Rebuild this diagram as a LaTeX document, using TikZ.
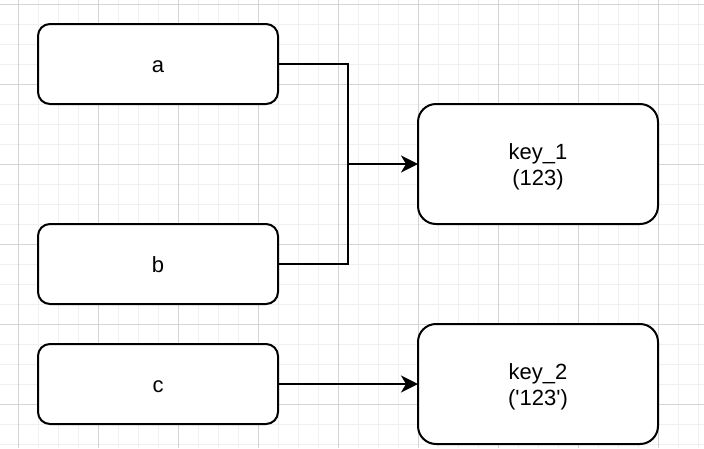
\documentclass[tikz,border=0pt]{standalone}
\usepackage{fontspec}
\setmainfont{Liberation Sans}
\usetikzlibrary{arrows.meta}

\definecolor{gridminor}{HTML}{F0F0F0}
\definecolor{gridmajor}{HTML}{D4D4D4}

\tikzset{
	box/.style = {draw, line width = 2pt, rounded corners = 12pt, fill = white,
		minimum width = 240pt, minimum height = 80pt, inner sep = 0pt, outer sep = 0pt,
		align = center, font = \fontsize{22}{26.4}\selectfont,
		text height = 17pt, text depth = 0pt},
	keybox/.style = {box, minimum height = 120pt, rounded corners = 18pt,
		text height = 43.4pt, text depth = 0pt},
	link/.style = {line width = 2pt, -{Stealth[length = 17pt, width = 17pt, inset = 5pt]}}
}

\begin{document}
\begin{tikzpicture}[x = 1pt, y = -1pt]
	\useasboundingbox[fill = white] (0, 0) rectangle (704, 448);
	% grid
	\foreach \x in {38, 58, ..., 698}
		\draw[gridminor, line width = 1pt] (\x, 0) -- (\x, 448);
	\foreach \y in {24, 44, ..., 444}
		\draw[gridminor, line width = 1pt] (0, \y) -- (704, \y);
	\foreach \x in {18, 98, ..., 658}
		\draw[gridmajor, line width = 1pt] (\x, 0) -- (\x, 448);
	\foreach \y in {4, 84, ..., 404}
		\draw[gridmajor, line width = 1pt] (0, \y) -- (704, \y);

	\node[box] (a) at (158, 64) {a};
	\node[box] (b) at (158, 264) {b};
	\node[box] (c) at (158, 384) {c};
	\node[keybox] (key1) at (538, 164) {key\_1\\(123)};
	\node[keybox] (key2) at (538, 384) {key\_2\\(\textquotesingle 123\textquotesingle)};

	\coordinate (join) at (348, 164);
	\draw[line width = 2pt] (a.east) -| (join);
	\draw[line width = 2pt] (b.east) -| (join);
	\draw[link] (join) -- (key1.west);
	\draw[link] (c.east) -- (key2.west);
\end{tikzpicture}
\end{document}
